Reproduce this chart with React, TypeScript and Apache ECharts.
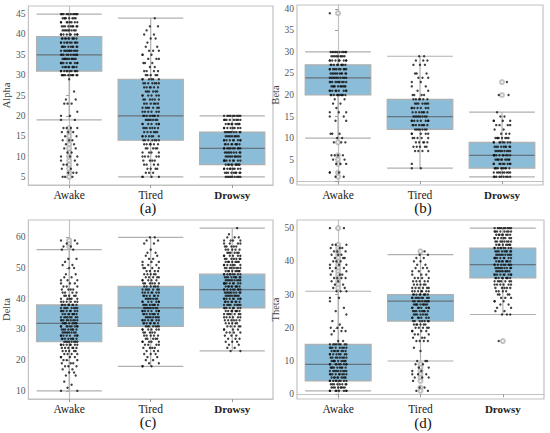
import React, { useEffect, useRef } from "react";
import * as echarts from "echarts";

const CATEGORIES = ["Awake", "Tired", "Drowsy"];
const PANEL_NAMES = ["Alpha", "Beta", "Delta", "Theta"];
const CAPTIONS = ["(a)", "(b)", "(c)", "(d)"];

// y tick labels per panel
const TICKS_A = [5, 10, 15, 20, 25, 30, 35, 40, 45];
const TICKS_B = [0, 5, 10, 15, 20, 25, 30, 35, 40];
const TICKS_C = [10, 20, 30, 40, 50, 60];
const TICKS_D = [0, 10, 20, 30, 40, 50];

// y extents per panel
const EXTENT_A = [3, 47];
const EXTENT_B = [-0.9, 40.9];
const EXTENT_C = [7.35, 65.65];
const EXTENT_D = [-1.45, 52.45];

// box stats: [lower whisker, Q1, median, Q3, upper whisker]
const ALPHA_BOX = [
  [19, 31, 35, 39.5, 45],
  [5, 14, 20, 29, 44],
  [5, 8, 12, 16, 20],
];
const BETA_BOX = [
  [10, 20, 24, 27, 30],
  [3, 12, 15, 19, 29],
  [1, 3, 6, 9, 16],
];
const DELTA_BOX = [
  [10, 26, 32, 38, 56],
  [18, 31, 37, 44, 60],
  [23, 37, 43, 48, 63],
];
const THETA_BOX = [
  [1, 4, 9, 15, 31],
  [10, 22, 28, 30, 42],
  [24, 35, 39, 44, 50],
];

// outliers (open circles) per category
const ALPHA_OUT = [[17, 16, 15, 14, 13, 12, 11, 10, 9, 8, 7, 6, 5], [], []];
const BETA_OUT = [[39, 9, 6, 5, 4, 2, 1], [], [23, 20]];
const DELTA_OUT = [[57, 58, 59], [], []];
const THETA_OUT = [
  [50, 45, 44, 43, 42, 41, 40, 39, 38, 37, 36, 35, 34, 33, 32],
  [43, 9, 8, 7, 6, 5, 4, 2, 1],
  [16],
];

// strip points: [value, count]
const ALPHA_AWAKE = [[45, 10], [44, 8], [43, 8], [42, 9], [41, 8], [40, 9], [39, 10], [38, 10], [37, 10], [36, 10], [35, 10], [34, 10], [33, 10], [32, 9], [31, 10], [30, 10], [29, 1], [26, 1], [24, 2], [23, 3], [21, 1], [20, 2], [19, 2], [17, 4], [16, 3], [15, 2], [14, 3], [13, 2], [12, 2], [11, 2], [10, 3], [9, 2], [8, 3], [7, 2], [6, 3], [5, 3]];
const ALPHA_TIRED = [[44, 1], [42, 2], [41, 1], [40, 2], [39, 2], [38, 1], [37, 2], [36, 3], [35, 3], [34, 3], [33, 3], [32, 2], [31, 4], [30, 5], [29, 6], [28, 7], [27, 6], [26, 6], [25, 6], [24, 6], [23, 6], [22, 7], [21, 6], [20, 8], [19, 7], [18, 7], [17, 7], [16, 6], [15, 7], [14, 7], [13, 6], [12, 5], [11, 4], [10, 5], [9, 4], [8, 4], [7, 4], [6, 3], [5, 4]];
const ALPHA_DROWSY = [[20, 9], [19, 8], [18, 9], [17, 8], [16, 9], [15, 9], [14, 9], [13, 9], [12, 10], [11, 9], [10, 10], [9, 9], [8, 10], [7, 9], [6, 9], [5, 9]];

const BETA_AWAKE = [[39, 1], [30, 10], [29, 9], [28, 9], [27, 9], [26, 10], [25, 10], [24, 10], [23, 10], [22, 10], [21, 9], [20, 10], [19, 2], [18, 2], [17, 1], [16, 3], [15, 2], [14, 2], [11, 3], [10, 2], [9, 3], [6, 4], [5, 2], [4, 3], [2, 3], [1, 2]];
const BETA_TIRED = [[29, 2], [28, 3], [27, 3], [25, 3], [24, 3], [23, 2], [22, 2], [21, 2], [20, 4], [19, 6], [18, 7], [17, 7], [16, 7], [15, 8], [14, 8], [13, 8], [12, 7], [11, 5], [10, 5], [9, 5], [8, 5], [7, 4], [4, 1], [3, 2]];
const BETA_DROWSY = [[23, 1], [20, 2], [16, 1], [15, 2], [14, 4], [13, 4], [12, 2], [11, 3], [10, 8], [9, 8], [8, 9], [7, 9], [6, 10], [5, 10], [4, 9], [3, 10], [2, 9], [1, 9]];

const DELTA_AWAKE = [[59, 2], [58, 2], [57, 2], [56, 2], [53, 2], [52, 1], [51, 2], [50, 2], [48, 2], [47, 2], [46, 3], [45, 3], [44, 3], [43, 4], [42, 4], [41, 5], [40, 5], [39, 6], [38, 8], [37, 8], [36, 8], [35, 8], [34, 8], [33, 9], [32, 9], [31, 9], [30, 8], [29, 8], [28, 8], [27, 8], [26, 8], [25, 8], [24, 6], [23, 5], [22, 4], [21, 4], [20, 3], [19, 3], [18, 3], [17, 2], [16, 2], [15, 2], [13, 1], [12, 1], [11, 1], [10, 2]];
const DELTA_TIRED = [[60, 2], [59, 2], [58, 2], [56, 1], [55, 2], [54, 2], [53, 2], [52, 3], [51, 3], [50, 4], [49, 4], [48, 5], [47, 5], [46, 5], [45, 6], [44, 6], [43, 7], [42, 7], [41, 7], [40, 7], [39, 7], [38, 8], [37, 8], [36, 8], [35, 8], [34, 8], [33, 8], [32, 8], [31, 7], [30, 6], [29, 5], [28, 5], [27, 5], [26, 5], [25, 4], [24, 4], [23, 3], [22, 3], [21, 2], [20, 2], [19, 2], [18, 3]];
const DELTA_DROWSY = [[63, 1], [61, 1], [60, 3], [59, 4], [58, 4], [57, 5], [56, 5], [55, 6], [54, 6], [53, 7], [52, 7], [51, 7], [50, 8], [49, 8], [48, 9], [47, 9], [46, 9], [45, 9], [44, 9], [43, 9], [42, 9], [41, 9], [40, 9], [39, 8], [38, 8], [37, 8], [36, 8], [35, 7], [34, 6], [33, 6], [32, 5], [31, 5], [30, 4], [29, 4], [28, 3], [27, 3], [26, 3], [25, 2], [24, 2], [23, 2]];

const THETA_AWAKE = [[50, 2], [45, 3], [44, 3], [43, 3], [42, 3], [41, 3], [40, 3], [39, 3], [38, 3], [37, 2], [36, 3], [35, 4], [34, 2], [33, 2], [32, 2], [31, 3], [29, 2], [28, 1], [26, 1], [25, 1], [24, 1], [22, 1], [21, 1], [20, 3], [19, 3], [18, 1], [16, 2], [15, 8], [14, 8], [13, 8], [12, 8], [11, 8], [10, 9], [9, 9], [8, 9], [7, 9], [6, 9], [5, 9], [4, 9], [3, 8], [2, 8], [1, 8]];
const THETA_TIRED = [[43, 1], [42, 2], [41, 2], [40, 2], [39, 2], [38, 3], [37, 3], [36, 3], [35, 4], [34, 5], [33, 5], [32, 6], [31, 7], [30, 9], [29, 9], [28, 9], [27, 9], [26, 8], [25, 8], [24, 7], [23, 7], [22, 7], [21, 6], [20, 5], [19, 4], [18, 3], [17, 3], [16, 4], [14, 1], [13, 1], [10, 3], [9, 2], [8, 2], [7, 2], [6, 3], [5, 3], [4, 1], [2, 2], [1, 2]];
const THETA_DROWSY = [[50, 9], [49, 8], [48, 8], [47, 8], [46, 8], [45, 8], [44, 9], [43, 9], [42, 9], [41, 9], [40, 9], [39, 9], [38, 9], [37, 9], [36, 9], [35, 9], [34, 7], [33, 6], [32, 5], [31, 4], [30, 4], [29, 3], [28, 3], [27, 2], [26, 2], [25, 2], [24, 3], [16, 1]];

// hand-typed horizontal jitter offsets (fraction of a category band)
const JITTER = [-0.1, 0.07, -0.03, 0.1, -0.07, 0.02, -0.09, 0.05, -0.01, 0.09, -0.05, 0.04, -0.08, 0.0, 0.06, -0.04, 0.08, -0.06, 0.03, -0.02, 0.1, -0.1, 0.01];

const PANELS = [
  { name: PANEL_NAMES[0], caption: CAPTIONS[0], ticks: TICKS_A, extent: EXTENT_A, box: ALPHA_BOX, out: ALPHA_OUT, pts: [ALPHA_AWAKE, ALPHA_TIRED, ALPHA_DROWSY], grid: { left: 24, top: 6, width: 249, height: 179 }, nameGap: 15, cap: [148, 208] },
  { name: PANEL_NAMES[1], caption: CAPTIONS[1], ticks: TICKS_B, extent: EXTENT_B, box: BETA_BOX, out: BETA_OUT, pts: [BETA_AWAKE, BETA_TIRED, BETA_DROWSY], grid: { left: 297, top: 5, width: 246, height: 180 }, nameGap: 15, cap: [423, 208] },
  { name: PANEL_NAMES[2], caption: CAPTIONS[2], ticks: TICKS_C, extent: EXTENT_C, box: DELTA_BOX, out: DELTA_OUT, pts: [DELTA_AWAKE, DELTA_TIRED, DELTA_DROWSY], grid: { left: 23, top: 220, width: 250, height: 179 }, nameGap: 13, cap: [148, 422] },
  { name: PANEL_NAMES[3], caption: CAPTIONS[3], ticks: TICKS_D, extent: EXTENT_D, box: THETA_BOX, out: THETA_OUT, pts: [THETA_AWAKE, THETA_TIRED, THETA_DROWSY], grid: { left: 297, top: 220, width: 247, height: 179 }, nameGap: 13, cap: [423, 423] },
];

const SERIF = "'Times New Roman', 'Liberation Serif', serif";

function buildOption() {
  const grids: any[] = [];
  const xAxes: any[] = [];
  const hiddenX: any[] = [];
  const yAxes: any[] = [];
  const series: any[] = [];
  const graphics: any[] = [];

  PANELS.forEach((p, i) => {
    grids.push({
      ...p.grid,
      show: true,
      borderColor: "#c2c2c2",
      borderWidth: 1.2,
      backgroundColor: "transparent",
      containLabel: false,
    });
    xAxes.push({
      type: "category",
      gridIndex: i,
      data: CATEGORIES,
      boundaryGap: true,
      axisLine: { show: true, lineStyle: { color: "#c2c2c2", width: 1.2 } },
      axisTick: { show: true, alignWithLabel: true, length: 3, lineStyle: { color: "#999" } },
      axisLabel: {
        fontFamily: SERIF,
        fontSize: 11.5,
        color: "#222",
        margin: 4,
        formatter: (v: string) => (v === "Drowsy" ? "{b|" + v + "}" : v),
        rich: { b: { fontFamily: SERIF, fontSize: 11, fontWeight: "bold", color: "#222" } },
      },
      splitLine: { show: false },
    });
    hiddenX.push({
      type: "value",
      gridIndex: i,
      min: -0.5,
      max: 2.5,
      show: false,
    });
    yAxes.push({
      type: "value",
      gridIndex: i,
      min: p.extent[0],
      max: p.extent[1],
      name: p.name,
      nameLocation: "middle",
      nameGap: p.nameGap,
      nameTextStyle: { fontFamily: SERIF, fontSize: 10.5, color: "#444" },
      axisLine: { show: true, lineStyle: { color: "#c2c2c2", width: 1.2 } },
      axisTick: { show: true, length: 3, customValues: p.ticks, lineStyle: { color: "#999" } },
      axisLabel: { fontFamily: SERIF, fontSize: 9.5, color: "#555", margin: 3, customValues: p.ticks },
      splitLine: { show: false },
    });

    series.push({
      type: "boxplot",
      xAxisIndex: i,
      yAxisIndex: i,
      data: p.box,
      boxWidth: ["80%", "80%"],
      itemStyle: { color: "#8bbcd8", borderColor: "#b0b0b0", borderWidth: 1.2 },
      emphasis: { disabled: true },
      z: 2,
    });
    series.push({
      type: "custom",
      xAxisIndex: i,
      yAxisIndex: i,
      data: p.box.map((b, ci) => [ci, b[2]]),
      renderItem: (_params: any, api: any) => {
        const c = api.coord([api.value(0), api.value(1)]);
        const w = api.size([1, 0])[0] * 0.8;
        return {
          type: "line",
          shape: { x1: c[0] - w / 2, y1: c[1], x2: c[0] + w / 2, y2: c[1] },
          style: { stroke: "#5e7685", lineWidth: 1.3 },
        };
      },
      z: 3,
      silent: true,
    });

    const outData: number[][] = [];
    p.out.forEach((vals, ci) => vals.forEach((v) => outData.push([ci, v])));
    series.push({
      type: "scatter",
      xAxisIndex: 4 + i,
      yAxisIndex: i,
      data: outData,
      symbol: "emptyCircle",
      symbolSize: 4,
      itemStyle: { color: "#b3b3b3", borderColor: "#b3b3b3", borderWidth: 0.8 },
      z: 4,
      silent: true,
    });

    const ptData: number[][] = [];
    p.pts.forEach((rows, ci) => {
      let k = ci * 7;
      rows.forEach(([v, n]) => {
        for (let j = 0; j < n; j++) {
          ptData.push([ci + JITTER[k % JITTER.length], v]);
          k++;
        }
      });
    });
    series.push({
      type: "scatter",
      xAxisIndex: 4 + i,
      yAxisIndex: i,
      data: ptData,
      symbol: "circle",
      symbolSize: 2.4,
      itemStyle: { color: "#111" },
      z: 5,
      silent: true,
    });

    graphics.push({
      type: "text",
      x: p.cap[0],
      y: p.cap[1],
      style: {
        text: p.caption,
        fontFamily: SERIF,
        fontSize: 15,
        fill: "#111",
        textAlign: "center",
        textVerticalAlign: "middle",
      },
    });
  });

  return {
    animation: false,
    backgroundColor: "#fff",
    textStyle: { fontFamily: SERIF },
    grid: grids,
    xAxis: [...xAxes, ...hiddenX],
    yAxis: yAxes,
    series,
    graphic: graphics,
  };
}

export default function App() {
  const ref = useRef<HTMLDivElement>(null);
  useEffect(() => {
    if (!ref.current) return;
    const chart = echarts.init(ref.current, undefined, { renderer: "svg" });
    chart.setOption(buildOption() as any);
    return () => chart.dispose();
  }, []);
  return (
    <div
      ref={ref}
      style={{ position: "absolute", left: 0, top: 0, width: 550, height: 433, background: "#fff" }}
    />
  );
}
